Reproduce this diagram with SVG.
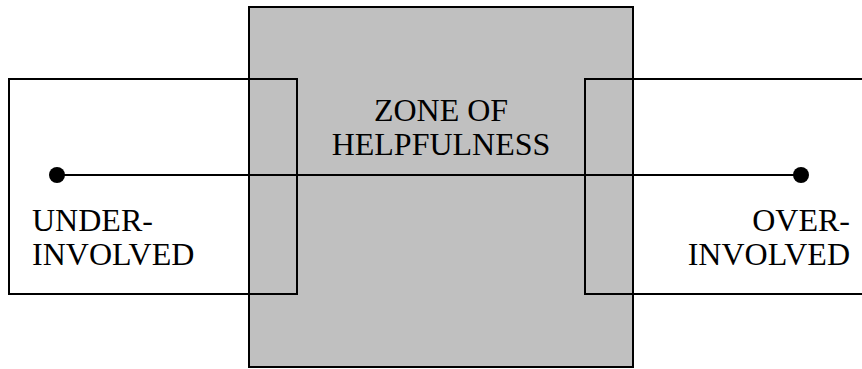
<svg xmlns="http://www.w3.org/2000/svg" width="862" height="369" viewBox="0 0 862 369">
<style>
.box{fill:none;stroke:#000;stroke-width:2}
.zone{fill:#c0c0c0;stroke:#000;stroke-width:2}
.t{font-family:"Liberation Serif","Times New Roman",serif;font-size:32px;fill:#000}
.ln{stroke:#000;stroke-width:2;fill:none}
</style>
<rect width="862" height="369" fill="#fff"/>
<g id="zone">
<rect class="zone" x="249" y="7" width="384" height="360"/>
<text class="t" x="441" y="121" text-anchor="middle">ZONE OF</text>
<text class="t" x="441" y="155" text-anchor="middle">HELPFULNESS</text>
</g>
<g id="under">
<rect class="box" x="9" y="79" width="288" height="215"/>
<text class="t" x="32" y="231">UNDER-</text>
<text class="t" x="32" y="265">INVOLVED</text>
</g>
<g id="over">
<rect class="box" x="585" y="79" width="290" height="215"/>
<text class="t" x="850" y="231" text-anchor="end">OVER-</text>
<text class="t" x="850" y="265" text-anchor="end">INVOLVED</text>
</g>
<g id="connectors">
<line class="ln" x1="57" y1="175" x2="801" y2="175"/>
<circle cx="57" cy="175" r="8" fill="#000"/>
<circle cx="801" cy="175" r="8" fill="#000"/>
</g>
</svg>
